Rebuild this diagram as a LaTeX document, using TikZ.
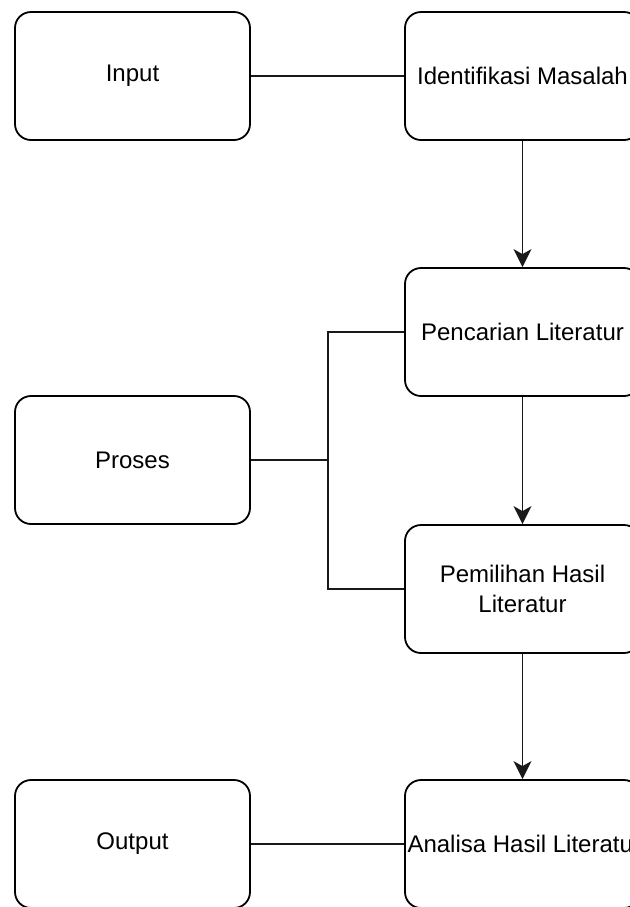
\documentclass[tikz,border=0pt]{standalone}
\usepackage{fontspec}
\setmainfont{Liberation Sans}
\usetikzlibrary{arrows.meta, positioning}

\begin{document}
\begin{tikzpicture}[
  x=0.5pt, y=-0.5pt,
  block/.style={rectangle, draw, rounded corners=8pt,
    minimum width=117.5pt, minimum height=64pt,
    font=\fontsize{12}{15}\selectfont, align=center,
    inner sep=0pt, line width=0.9pt},
  lbl/.style={font=\fontsize{12}{15}\selectfont, inner sep=0pt},
  link/.style={line width=0.8pt, draw=black!90},
  arr/.style={link, -{Stealth[length=9pt, width=9pt, inset=2.5pt]}},
]

\useasboundingbox (0,0) rectangle (630,907);
\clip (0,0) rectangle (630,907);

% left column
\node[block] (inp) at (132.5, 76) {Input};
\node[block] (pro) at (132.5,460) {Proses};
\node[block] (out) at (132.5,844) {Output};

% right column
\node[block] (idm) at (522.5, 76) {Identifikasi Masalah};
\node[block] (pcl) at (522.5,332) {Pencarian Literatur};
\node[block] (phl) at (522.5,589) {Pemilihan Hasil\\Literatur};
\node[block] (ahl) at (522.5,844) {};
\node[lbl, anchor=west] (ahltxt) at ([xshift=1.5pt]ahl.west) {Analisa Hasil Literatu};

\coordinate (jn) at (328,460);

\draw[link] (inp) -- (idm);
\draw[link] (out) -- (ahl);
\draw[link] (pro) -- (jn);
\draw[link] (pcl.west) -| (jn) |- (phl.west);

\draw[arr] (idm) -- (pcl);
\draw[arr] (pcl) -- (phl);
\draw[arr] (phl) -- (ahl);

\end{tikzpicture}
\end{document}
